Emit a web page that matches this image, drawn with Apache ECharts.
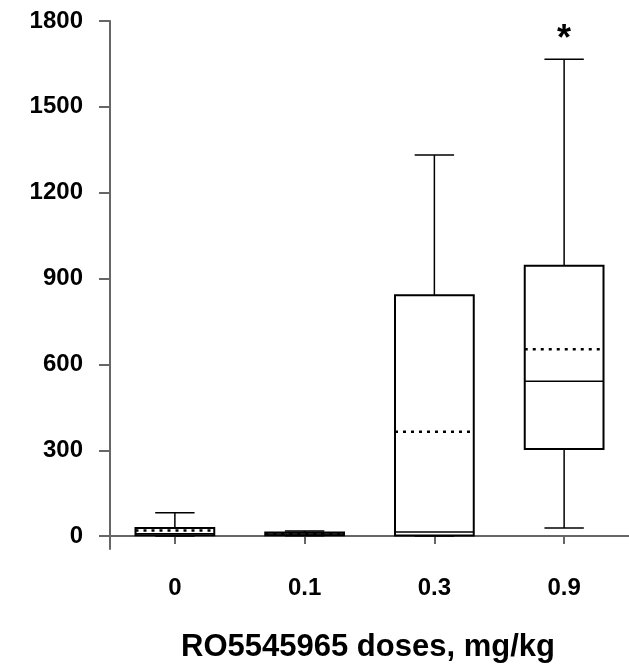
<!DOCTYPE html>
<html>
<head>
<meta charset="utf-8">
<script src="https://cdn.jsdelivr.net/npm/echarts@6/dist/echarts.min.js"></script>
<style>
html,body{margin:0;padding:0;background:#fff;}
#chart{width:629px;height:664px;}
</style>
</head>
<body>
<div id="chart"></div>
<script>
const categories = ['0', '0.1', '0.3', '0.9'];
const mins    = [0, 1, 0, 28];
const q1s     = [3, 3, 2, 304];
const medians = [8, 7, 14, 541];
const q3s     = [28, 13, 842, 945];
const maxs    = [82, 18, 1332, 1666];
const means   = [20, 9, 365, 653];
const marks   = ['', '', '', '*'];
const yTicks  = [0, 300, 600, 900, 1200, 1500, 1800];
const xTitle  = 'RO5545965 doses, mg/kg';

const FONT = '"Liberation Sans", Arial, sans-serif';
const axisColor = '#666';

const data = categories.map((c, i) => [i, mins[i], q1s[i], medians[i], q3s[i], maxs[i], means[i]]);

function renderItem(params, api) {
  const i = api.value(0);
  const cx = api.coord([i, 0])[0];
  const band = api.size([1, 0])[0];
  const bw = band * 0.607;
  const cw = bw / 2;
  const yOf = v => api.coord([i, v])[1];
  const vMin = api.value(1), vQ1 = api.value(2), vMed = api.value(3),
        vQ3 = api.value(4), vMax = api.value(5), vMean = api.value(6);
  const line = (x1, y1, x2, y2, w, dash) => ({
    type: 'line',
    shape: { x1, y1, x2, y2 },
    style: { stroke: '#000', lineWidth: w, lineDash: dash || null, fill: null }
  });
  const children = [
    line(cx, yOf(vQ3), cx, yOf(vMax), 1.5),
    line(cx, yOf(vQ1), cx, yOf(vMin), 1.5),
    line(cx - cw / 2, yOf(vMax), cx + cw / 2, yOf(vMax), 1.5),
    line(cx - cw / 2, yOf(vMin), cx + cw / 2, yOf(vMin), 1.5),
    {
      type: 'rect',
      shape: { x: cx - bw / 2, y: yOf(vQ3), width: bw, height: yOf(vQ1) - yOf(vQ3) },
      style: { stroke: '#000', lineWidth: 2, fill: 'rgba(0,0,0,0)' }
    },
    line(cx - bw / 2, yOf(vMed), cx + bw / 2, yOf(vMed), 1.5),
    line(cx - bw / 2, yOf(vMean), cx + bw / 2, yOf(vMean), 2.5, [3, 5])
  ];
  const m = marks[i];
  if (m) {
    children.push({
      type: 'text',
      style: {
        text: m, x: cx, y: yOf(vMax) - 19,
        align: 'center', verticalAlign: 'middle',
        font: 'bold 36px ' + FONT, fill: '#000'
      }
    });
  }
  return { type: 'group', children };
}

const chart = echarts.init(document.getElementById('chart'));
chart.setOption({
  animation: false,
  backgroundColor: '#fff',
  grid: { left: 110, top: 21, bottom: 115, width: 527 },
  xAxis: {
    type: 'category',
    data: categories,
    boundaryGap: true,
    axisLine: { show: true, lineStyle: { color: axisColor, width: 2 } },
    axisTick: { show: true, alignWithLabel: true, length: 8, lineStyle: { color: axisColor, width: 2 } },
    axisLabel: { fontSize: 24, fontWeight: 'bold', color: '#000', fontFamily: FONT, margin: 27 },
    splitLine: { show: false }
  },
  yAxis: {
    type: 'value',
    min: -45,
    max: 1800,
    axisLine: { show: true, lineStyle: { color: axisColor, width: 2 } },
    axisTick: { show: true, length: 11, customValues: yTicks, lineStyle: { color: axisColor, width: 2 } },
    axisLabel: {
      fontSize: 24, fontWeight: 'bold', color: '#000', fontFamily: FONT, margin: 27,
      customValues: yTicks, formatter: v => String(v)
    },
    splitLine: { show: false }
  },
  series: [{
    type: 'custom',
    renderItem: renderItem,
    data: data,
    encode: { x: 0, y: [1, 5] },
    clip: false
  }],
  graphic: [{
    type: 'text',
    x: 368, y: 647,
    style: {
      text: xTitle, align: 'center', verticalAlign: 'middle',
      font: 'bold 31px ' + FONT, fill: '#000'
    }
  }]
});
</script>
</body>
</html>
